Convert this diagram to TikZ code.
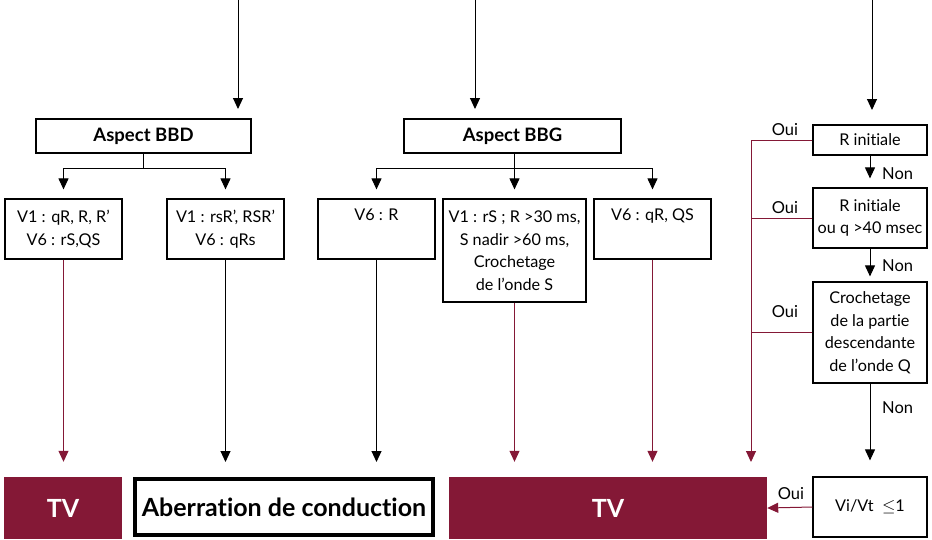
\documentclass[tikz,border=0pt]{standalone}
\usepackage{fontspec}
\setmainfont{Lato}[Ligatures=NoCommon]
\usetikzlibrary{arrows.meta}
\definecolor{bordeaux}{HTML}{841836}
\begin{document}
\begin{tikzpicture}[x=1pt,y=-1pt,
  box/.style={draw, line width=1.2pt, inner sep=0pt, align=center,
    font=\fontsize{16.2}{22.5}\selectfont},
  title/.style={box, font=\bfseries\fontsize{18.5}{21}\selectfont},
  verdict/.style={fill=bordeaux, text=white, inner sep=0pt,
    font=\bfseries\fontsize{25}{28}\selectfont},
  link/.style={line width=1pt},
  arr/.style={link, -{Triangle[width=10pt,length=11pt]}},
  redlink/.style={link, color=bordeaux},
  redarr/.style={arr, color=bordeaux},
  lbl/.style={inner sep=0pt, font=\fontsize{16.5}{18}\selectfont}
]
\useasboundingbox (0,0) rectangle (932,539);

% --- headers ---
\node[title, minimum width=215pt, minimum height=34pt] (bbd) at (143.5,136) {Aspect BBD};
\node[title, minimum width=217pt, minimum height=34pt] (bbg) at (512.5,136) {Aspect BBG};

% --- criteria boxes ---
\node[box, minimum width=117pt, minimum height=60pt] (a1) at (63.5,229) {V1 : qR, R, R’\\V6 : rS,QS};
\node[box, minimum width=117pt, minimum height=60pt] (a2) at (225.5,229) {V1 : rsR’, RSR’\\V6 : qRs};
\node[box, minimum width=117pt, minimum height=60pt] (b1) at (376.5,229) {V6 : R\\\strut};
\node[box, minimum width=143pt, minimum height=103pt] (b2) at (514.5,250.5)
  {V1 : rS ; R >30 ms,\\S nadir >60 ms,\\Crochetage\\de l’onde S};
\node[box, minimum width=117pt, minimum height=60pt] (b3) at (652.5,229) {V6 : qR, QS\\\strut};

% --- right-hand decision column ---
\node[box, minimum width=114pt, minimum height=30pt] (r1) at (870,140) {R initiale};
\node[box, minimum width=114pt, minimum height=60pt] (r2) at (870,218) {R initiale\\ou q >40 msec};
\node[box, minimum width=114pt, minimum height=101pt] (r3) at (870,332.5)
  {Crochetage\\de la partie\\descendante\\de l’onde Q};
\node[box, minimum width=114pt, minimum height=60pt] (r4) at (870,507) {Vi/Vt~~\ensuremath{\leq}1};

% --- outcomes ---
\node[verdict, minimum width=118pt, minimum height=62pt] (tv1) at (63,508) {TV};
\node[draw, line width=4pt, inner sep=0pt, minimum width=298pt, minimum height=56pt,
  font=\bfseries\fontsize{25}{28}\selectfont] (ab) at (284,507) {Aberration de conduction};
\node[verdict, minimum width=318pt, minimum height=62pt] (tv2) at (608,508) {TV};

% --- incoming arrows from above ---
\coordinate (in1) at (238,0);
\coordinate (in2) at (475,0);
\coordinate (in3) at (872,0);
\draw[arr] (in1) -- (238,109);
\draw[arr] (in2) -- (475,109);
\draw[arr] (in3) -- (872,110);

% --- branching below the headers ---
\draw[link] (bbd.south) -- (143.5,168) coordinate (bbdj);
\draw[arr, shorten >=9pt] (bbdj) -| (a1.north);
\draw[arr, shorten >=9pt] (bbdj) -| (a2.north);
\draw[link] (bbg.south -| b2.north) -- (514.5,168) coordinate (bbgj);
\draw[arr, shorten >=9pt] (bbgj) -| (b1.north);
\draw[arr, shorten >=9pt] (bbgj) -- (b2.north);
\draw[arr, shorten >=9pt] (bbgj) -| (b3.north);

% --- criteria to outcomes ---
\draw[redarr, shorten >=15pt] (a1.south) -- (a1.south |- tv1.north);
\draw[arr, shorten >=15pt] (a2.south) -- (a2.south |- ab.north);
\draw[arr, shorten >=15pt] (b1.south) -- (b1.south |- ab.north);
\draw[redarr, shorten >=15pt] (b2.south) -- (b2.south |- tv2.north);
\draw[redarr, shorten >=15pt] (b3.south) -- (b3.south |- tv2.north);

% --- decision column ---
\draw[arr, shorten >=9pt] (r1.south) -- (r2.north);
\draw[arr, shorten >=5pt] (r2.south) -- (r3.north);
\draw[arr, shorten >=16pt] (r3.south) -- (r4.north);
\node[lbl, anchor=west] (n1) at (882,174) {Non};
\node[lbl, anchor=west] (n2) at (882,266) {Non};
\node[lbl, anchor=west] (n3) at (882,408) {Non};

\coordinate (vbot) at (751,462);
\draw[redarr] (r1.west) -| (vbot);
\draw[redlink] (r2.west) -- (r2.west -| vbot);
\draw[redlink] (r3.west) -- (r3.west -| vbot);
\draw[redarr] (r4.west) -- (tv2.east);
\node[lbl] (o1) at (785,130) {Oui};
\node[lbl] (o2) at (785,208) {Oui};
\node[lbl] (o3) at (785,312) {Oui};
\node[lbl] (o4) at (791,494) {Oui};
\end{tikzpicture}
\end{document}
